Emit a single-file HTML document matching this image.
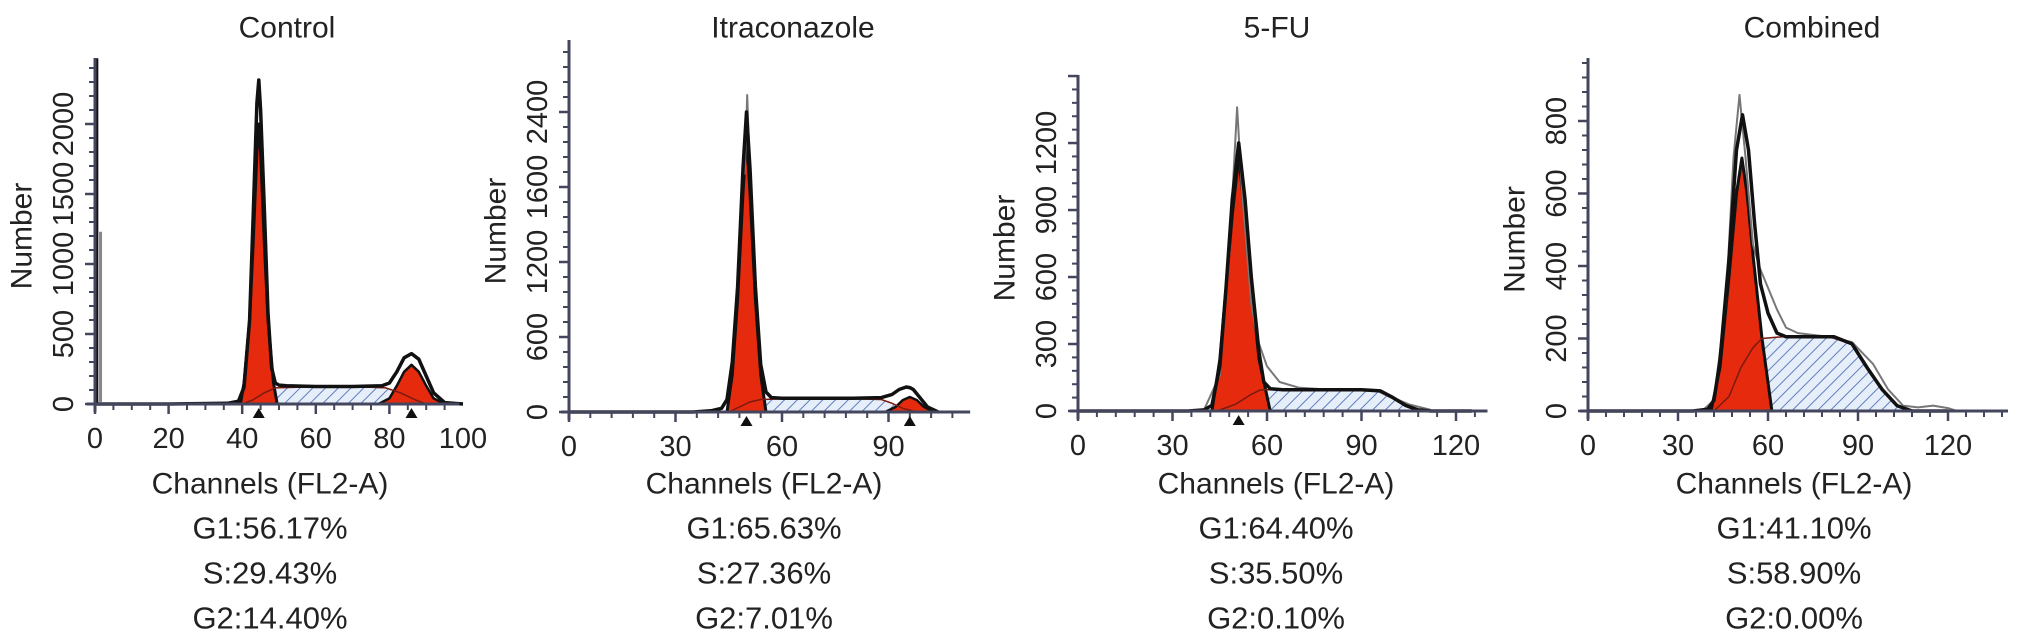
<!DOCTYPE html>
<html><head><meta charset="utf-8"><style>
html,body{margin:0;padding:0;background:#fff;}
svg{display:block;font-family:"Liberation Sans",Arial,sans-serif;}
</style></head><body>
<svg id="fig" width="2032" height="638" viewBox="0 0 2032 638" xmlns="http://www.w3.org/2000/svg">
<defs>
<pattern id="hatch" patternUnits="userSpaceOnUse" width="9" height="9" patternTransform="rotate(45)">
<rect width="9" height="9" fill="#e6eef9"/>
<line x1="0" y1="0" x2="0" y2="9" stroke="#5f7fbf" stroke-width="2"/>
</pattern>
</defs>
</svg>
<script>
// ---------- Control ----------
const ctrlTitle = "Control";
const ctrlStats = ["G1:56.17%","S:29.43%","G2:14.40%"];
const ctrlXTicks = [0,20,40,60,80,100];
const ctrlYTicks = [0,500,1000,1500,2000];
const ctrlYLabels = ["0","500","1000","1500","2000"];
const ctrlTotalCh = [0,20,36,39,40.5,42,43,44,44.5,45,46,47,48,49,50,52,60,70,78,80,82,84,86,88,90,92,95,100];
const ctrlTotalN  = [0,0,5,20,120,600,1350,2150,2314,2100,1400,650,260,150,135,130,125,125,130,150,230,330,360,320,200,80,10,0];
const ctrlG1Ch = [39.5,40.5,42,43,44,44.5,45,46,47,48.5,49.5];
const ctrlG1N  = [0,150,600,1150,1800,2000,1800,1150,600,150,0];
const ctrlSCh = [40,43,46,49,55,65,75,79,83,87,90];
const ctrlSN  = [0,30,80,115,120,120,120,115,80,30,0];
const ctrlG2Ch = [77,80,82,84,86,88,90,92,95];
const ctrlG2N  = [0,40,130,230,280,230,130,40,0];
const ctrlRawCh = [0.5,1.5];
const ctrlRawN = [2470,1230];
const ctrlMarkers = [44.5,86];

// ---------- Itraconazole ----------
const itraTitle = "Itraconazole";
const itraStats = ["G1:65.63%","S:27.36%","G2:7.01%"];
const itraXTicks = [0,30,60,90];
const itraYTicks = [0,600,1200,1800,2400];
const itraYLabels = ["0","600","1200","1600","2400"];
const itraTotalCh = [0,35,40,43,44.5,46,47.5,49,50,51,52.5,54,55.5,57,60,70,80,88,91,93,95,96,97,99,101,104];
const itraTotalN  = [0,0,10,30,100,400,1000,1950,2400,1950,1000,380,160,115,110,110,110,115,140,180,200,195,180,110,40,0];
const itraG1Ch = [44.5,46,47.5,49,50,51,52.5,54,55.5];
const itraG1N  = [0,300,900,1750,2230,1750,900,300,0];
const itraSCh = [45,48,51,54,60,80,88,91,94,98];
const itraSN  = [0,40,80,100,105,105,100,70,30,0];
const itraG2Ch = [89,92,94,96,98,100,103];
const itraG2N  = [0,40,95,120,95,40,0];
const itraRawCh = [49.5,50.2,51];
const itraRawN = [1900,2536,1900];
const itraMarkers = [50,96];

// ---------- 5-FU ----------
const fuTitle = "5-FU";
const fuStats = ["G1:64.40%","S:35.50%","G2:0.10%"];
const fuXTicks = [0,30,60,90,120];
const fuYTicks = [0,300,600,900,1200];
const fuYLabels = ["0","300","600","900","1200"];
const fuTotalCh = [0,35,40,42.5,45,47,49,51,53,55,57.5,59,61,65,75,90,96,100,104,108,112,125];
const fuTotalN  = [0,0,5,25,200,550,950,1200,950,600,260,130,100,95,95,95,90,60,25,5,0,0];
const fuRawCh = [40,45,48,50.5,52,55,57,60,64,70,80,95,105,112];
const fuRawN  = [5,160,700,1360,1000,480,320,200,130,105,95,90,30,5];
const fuG1Ch = [42.5,45,47,49,51,53,55,57.5,61];
const fuG1N  = [0,230,550,880,1137,880,560,230,0];
const fuSCh = [44,50,55,58,65,80,95,100,104,108];
const fuSN  = [0,30,75,95,95,95,90,55,20,0];
const fuG2Ch = [];
const fuG2N = [];
const fuMarkers = [51];

// ---------- Combined ----------
const combTitle = "Combined";
const combStats = ["G1:41.10%","S:58.90%","G2:0.00%"];
const combXTicks = [0,30,60,90,120];
const combYTicks = [0,200,400,600,800];
const combYLabels = ["0","200","400","600","800"];
const combTotalCh = [0,35,40,42,44,47,49.5,51.5,53.5,55.5,57.5,60,63,66,75,82,88,93,98,103,108,120];
const combTotalN  = [0,0,5,30,140,420,720,817,720,520,350,270,215,205,205,205,185,120,60,15,0,0];
const combRawCh = [38,42,46,48.5,50.5,52.5,55,57,60,63,66,70,80,88,95,100,105,110,115,120,123];
const combRawN  = [0,30,300,700,872,700,460,400,340,280,230,215,205,190,130,60,15,10,15,8,0];
const combG1Ch = [41,44,47,49.5,51.3,53,55,58,61.3];
const combG1N  = [0,120,370,600,698,600,430,200,0];
const combSCh = [42,47,51,55,58,65,80,88,93,98,103,107];
const combSN  = [0,40,120,175,200,205,205,185,120,60,15,0];
const combG2Ch = [];
const combG2N = [];
const combMarkers = [];

const NS = "http://www.w3.org/2000/svg";
const svg = document.getElementById('fig');
function mk(tag, attrs, parent){
  const e = document.createElementNS(NS, tag);
  for (const k in attrs) e.setAttribute(k, attrs[k]);
  (parent||svg).appendChild(e);
  return e;
}

const panels = [
  {key:'control', title:ctrlTitle, stats:ctrlStats, xt:ctrlXTicks, xminor:5, yt:ctrlYTicks, yl:ctrlYLabels, yminor:100,
   ax:95, ay:404, sx:3.68, sy:0.14, chMax:99, topY:58, textX:270, titleX:287,
   tot:[ctrlTotalCh,ctrlTotalN], raw:null, g1:[ctrlG1Ch,ctrlG1N], s:[ctrlSCh,ctrlSN], g2:[ctrlG2Ch,ctrlG2N], spikes:[ctrlRawCh,ctrlRawN], markers:ctrlMarkers},
  {key:'itraconazole', title:itraTitle, stats:itraStats, xt:itraXTicks, xminor:6, yt:itraYTicks, yl:itraYLabels, yminor:120,
   ax:569, ay:412, sx:3.55, sy:0.125, chMax:113, topY:40, textX:764, titleX:793,
   tot:[itraTotalCh,itraTotalN], raw:[itraRawCh,itraRawN], g1:[itraG1Ch,itraG1N], s:[itraSCh,itraSN], g2:[itraG2Ch,itraG2N], spikes:null, markers:itraMarkers},
  {key:'5fu', title:fuTitle, stats:fuStats, xt:fuXTicks, xminor:6, yt:fuYTicks, yl:fuYLabels, yminor:60,
   ax:1078, ay:411, sx:3.15, sy:0.2233, chMax:130, topY:75, textX:1276, titleX:1277,
   tot:[fuTotalCh,fuTotalN], raw:[fuRawCh,fuRawN], g1:[fuG1Ch,fuG1N], s:[fuSCh,fuSN], g2:[fuG2Ch,fuG2N], spikes:null, markers:fuMarkers},
  {key:'combined', title:combTitle, stats:combStats, xt:combXTicks, xminor:6, yt:combYTicks, yl:combYLabels, yminor:40,
   ax:1588, ay:411, sx:3.0, sy:0.3625, chMax:140, topY:58, textX:1794, titleX:1812,
   tot:[combTotalCh,combTotalN], raw:[combRawCh,combRawN], g1:[combG1Ch,combG1N], s:[combSCh,combSN], g2:[combG2Ch,combG2N], spikes:null, markers:combMarkers}
];

panels.forEach(p => {
  const g = mk('g', {});
  
  
  const X = ch => p.ax + ch * p.sx;
  const Y = n => p.ay - n * p.sy;
  const pts = (chs, ns) => chs.map((c,i)=> X(c).toFixed(1)+','+Y(ns[i]).toFixed(1)).join(' ');
  const area = (chs, ns) => X(chs[0]).toFixed(1)+','+p.ay+' '+pts(chs,ns)+' '+X(chs[chs.length-1]).toFixed(1)+','+p.ay;

  const s = mk('polygon', {points: area(p.s[0], p.s[1]), fill:'url(#hatch)', stroke:'none'}, g);
  
  
  const g1 = mk('polygon', {points: area(p.g1[0], p.g1[1]), fill:'#e52a0e', stroke:'#111', 'stroke-width':3, 'stroke-linejoin':'round'}, g);
  
  
  if (p.g2[0].length) {
    const g2 = mk('polygon', {points: area(p.g2[0], p.g2[1]), fill:'#e52a0e', stroke:'#111', 'stroke-width':2.5, 'stroke-linejoin':'round'}, g);
    
    
  }
  const sl = mk('polyline', {points: pts(p.s[0], p.s[1]), fill:'none', stroke:'#7a1a10', 'stroke-width':1.5}, g);
  
  
  if (p.raw) {
    const r = mk('polyline', {points: pts(p.raw[0], p.raw[1]), fill:'none', stroke:'#777', 'stroke-width':2, 'stroke-linejoin':'round'}, g);
    
    
  }
  const t = mk('polyline', {points: pts(p.tot[0], p.tot[1]), fill:'none', stroke:'#111', 'stroke-width':3.5, 'stroke-linejoin':'round'}, g);
  
  
  if (p.spikes) {
    p.spikes[0].forEach((c,i)=>{
      const sp = mk('line', {x1:X(c), x2:X(c), y1:p.ay, y2:Y(p.spikes[1][i]), stroke: i===0?'#111':'#888', 'stroke-width':3}, g);
      
      
    });
  }
  const axc = '#44465e';
  const xa = mk('line', {x1:p.ax-8, x2:X(p.chMax), y1:p.ay, y2:p.ay, stroke:axc, 'stroke-width':3}, g);
  
  
  const ya = mk('line', {x1:p.ax, x2:p.ax, y1:p.ay+8, y2:p.topY, stroke:axc, 'stroke-width':3}, g);
  
  
  for (let c = 0; c <= p.chMax + 0.01; c += p.xminor) {
    const major = p.xt.indexOf(Math.round(c)) >= 0;
    mk('line', {x1:X(c), x2:X(c), y1:p.ay, y2:p.ay + (major?10:6), stroke:axc, 'stroke-width':major?2.5:2}, g);
  }
  const nTop = (p.ay - p.topY) / p.sy;
  for (let n = 0; n <= nTop; n += p.yminor) {
    const major = (n % (p.yt[1]-p.yt[0])) === 0;
    mk('line', {x1:p.ax - (major?10:6), x2:p.ax, y1:Y(n), y2:Y(n), stroke:axc, 'stroke-width':major?2.5:2}, g);
  }
  p.xt.forEach(v=>{
    const tl = mk('text', {x:X(v), y:p.ay+35, 'font-size':29, fill:'#222', 'text-anchor':'middle', 'dominant-baseline':'central'}, g);
    tl.textContent = v;
    
    
  });
  p.yt.forEach((v,i)=>{
    const yy = Y(v), xx = p.ax - 31;
    const tl = mk('text', {x:xx, y:yy, 'font-size':29, fill:'#222', 'text-anchor':'middle', 'dominant-baseline':'central', transform:`rotate(-90 ${xx} ${yy})`}, g);
    tl.textContent = p.yl[i];
    
    
  });
  p.markers.forEach(c=>{
    const m = mk('polygon', {points:`${X(c)-6},${p.ay+14} ${X(c)+6},${p.ay+14} ${X(c)},${p.ay+4}`, fill:'#111'}, g);
    
    
  });
  const yc = (p.ay + p.topY) / 2 + 5;
  const yt = mk('text', {x:p.ax-73, y:yc, 'font-size':30, fill:'#222', 'text-anchor':'middle', 'dominant-baseline':'central', transform:`rotate(-90 ${p.ax-73} ${yc})`}, g);
  yt.textContent = 'Number';
  
  
  const ti = mk('text', {x:p.titleX, y:28, 'font-size':30, fill:'#222', 'text-anchor':'middle', 'dominant-baseline':'central'}, g);
  ti.textContent = p.title;
  
  
  const xt = mk('text', {x:p.textX, y:484, 'font-size':30, fill:'#222', 'text-anchor':'middle', 'dominant-baseline':'central'}, g);
  xt.textContent = 'Channels (FL2-A)';
  
  
  p.stats.forEach((st,i)=>{
    const e = mk('text', {x:p.textX, y:528 + i*45, 'font-size':31, fill:'#222', 'text-anchor':'middle', 'dominant-baseline':'central'}, g);
    e.textContent = st;
    
    
  });
});
</script>
</body></html>
